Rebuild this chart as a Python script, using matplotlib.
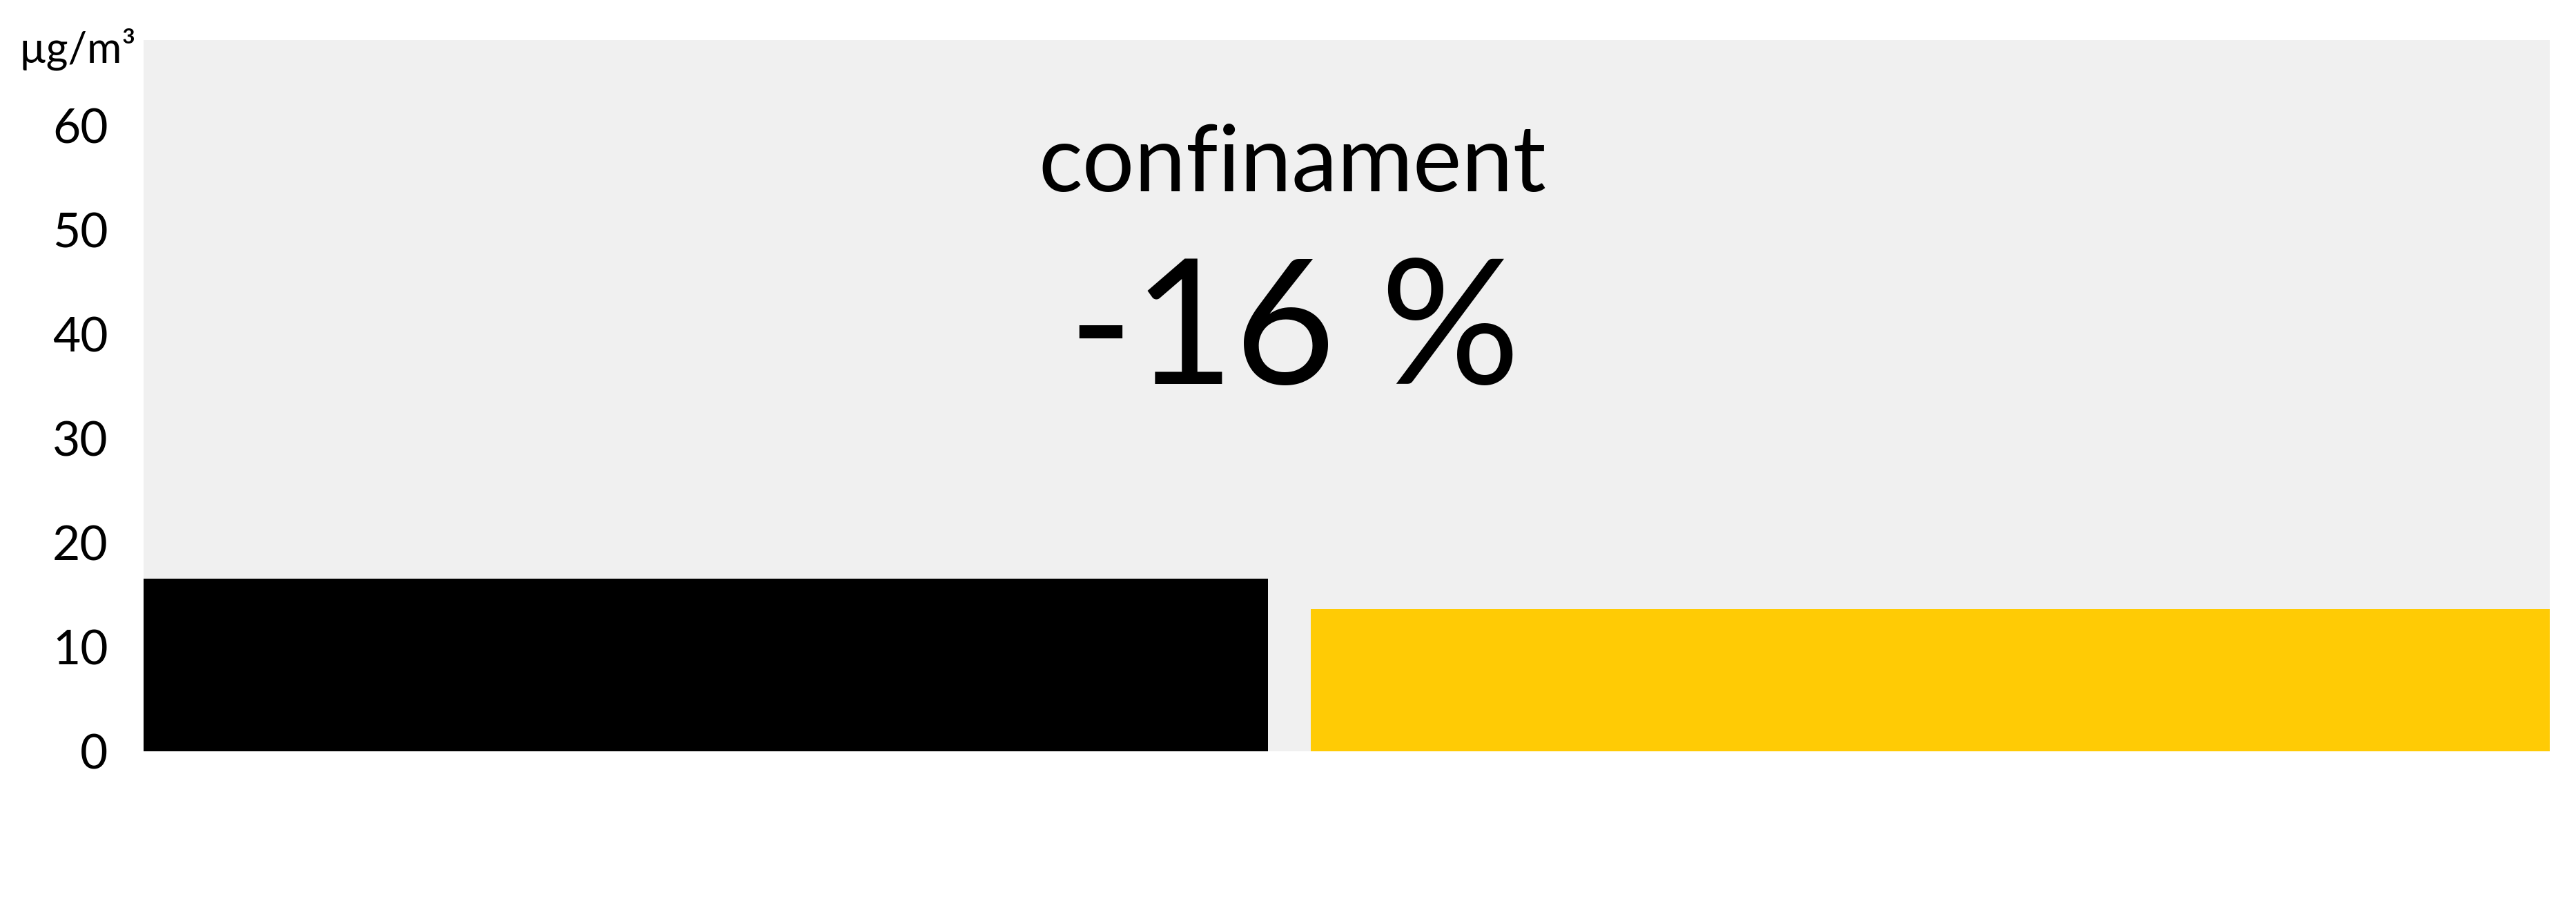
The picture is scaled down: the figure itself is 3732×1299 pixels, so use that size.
import matplotlib
matplotlib.use("Agg")
import matplotlib.pyplot as plt

plt.rcParams['font.family'] = ['Lato', 'DejaVu Sans']

# data
periods = ['avant', 'confinament']
values = [16.55, 13.65]
colors = ['#000000', '#ffcb05']
yticks = [0, 10, 20, 30, 40, 50, 60]
unit = 'µg/m³'
title = 'confinament'
change = '-16 %'

# layout (figure fractions / axis units)
bar_left = [0.0, 0.4851]
bar_width = [0.4673, 0.5149]

fig = plt.figure(figsize=(37.32, 12.99), dpi=100)
ax = fig.add_axes([208 / 3732, 1 - 1088 / 1299, (3694 - 208) / 3732, (1088 - 58) / 1299])
ax.set_facecolor('#f0f0f0')

ax.bar(bar_left, values, width=bar_width, align='edge', color=colors, linewidth=0)

ax.set_xlim(0, 1)
ax.set_ylim(0, 68.2)
ax.set_xticks([])
ax.set_yticks(yticks)
ax.set_yticklabels([str(t) for t in yticks], fontsize=50)
ax.tick_params(axis='y', length=0, pad=37)
for s in ax.spines.values():
    s.set_visible(False)

fig.text(197 / 3732, 1 - 90 / 1299, unit, fontsize=44, ha='right', va='baseline')
fig.text(1872 / 3732, 1 - 277 / 1299, title, fontsize=96, ha='center', va='baseline')
fig.text(1875 / 3732, 1 - 556 / 1299, change, fontsize=182, ha='center', va='baseline')

fig.savefig('out.png', dpi=100, facecolor='white')
